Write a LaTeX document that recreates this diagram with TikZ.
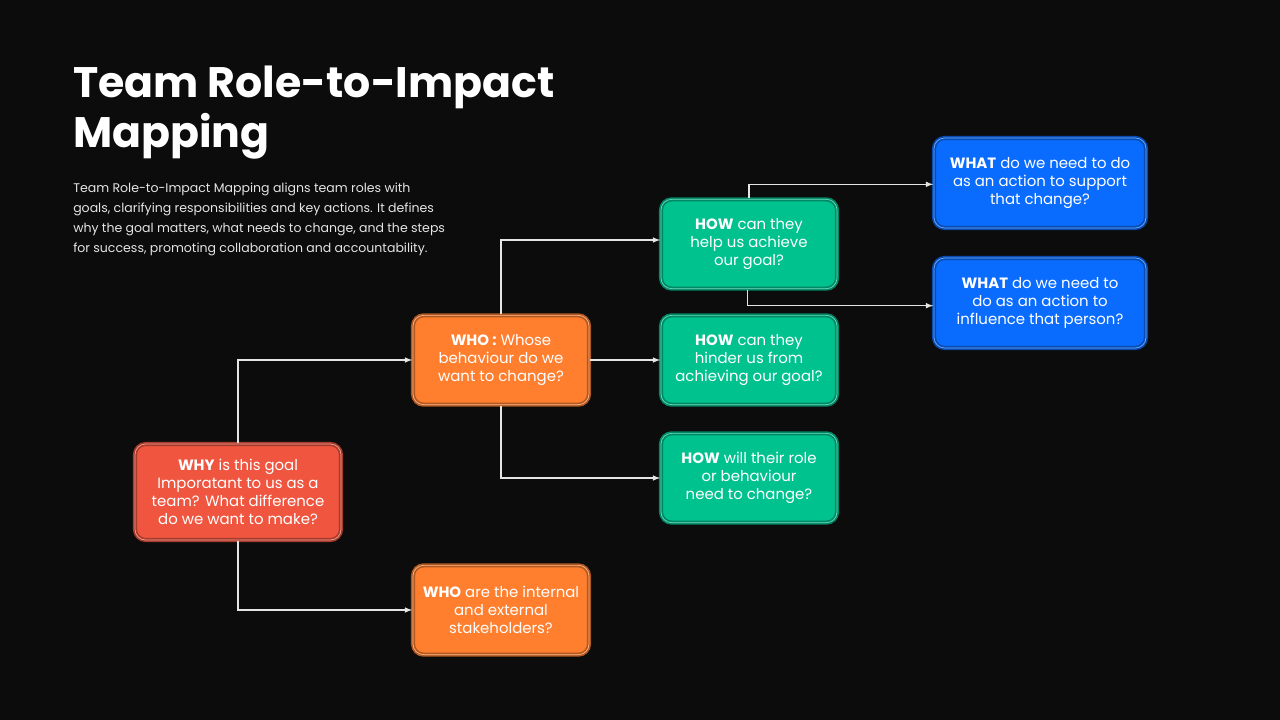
\documentclass[tikz,border=0pt]{standalone}
\usepackage{fontspec}
\setmainfont{Poppins}
\usetikzlibrary{positioning}
\definecolor{mybg}{RGB}{12,12,12}
\definecolor{myred}{RGB}{240,85,63}
\definecolor{myorange}{RGB}{255,127,47}
\definecolor{mygreen}{RGB}{0,194,143}
\definecolor{myblue}{RGB}{10,108,255}
\begin{document}
\begin{tikzpicture}[x=0.75pt,y=-0.75pt,
box/.style={
  fill=#1,
  draw=#1!70!black,
  double=#1!55!white,
  double distance=0.5pt,
  line width=1.3pt,
  rounded corners=8pt,
  font={\fontsize{11.2}{13.4}\selectfont\color{white}},
  align=center,
  inner sep=0pt},
link/.style={draw=white!90!black, line width=0.9pt, -latex},
]
\fill[mybg] (0,0) rectangle (1280,720);
\useasboundingbox (0,0) rectangle (1280,720);
% title and text
\node[anchor=north west, align=left, inner sep=0pt, font={\fontsize{32}{37.5}\selectfont\bfseries\color{white}}] (title) at (73,66) {Team Role-to-Impact\\Mapping};
\node[anchor=north west, align=left, inner sep=0pt, font={\fontsize{9.4}{15}\selectfont\color{white!90!black}}] (intro) at (73,183)
{Team Role-to-Impact Mapping aligns team roles with\\goals, clarifying responsibilities and key actions. It defines\\why the goal matters, what needs to change, and the steps\\for success, promoting collaboration and accountability.};
% boxes
\node[box=myred, minimum width=154.5pt, minimum height=72pt] (why) at (238,492) {\textbf{WHY} is this goal\\Imporatant to us as a\\team? What difference\\do we want to make?};
\node[box=myorange, minimum width=132pt, minimum height=67pt] (who) at (501,360) {\textbf{WHO :} Whose\\behaviour do we\\want to change?};
\node[box=myorange, minimum width=132pt, minimum height=67pt] (whoext) at (501,610) {\textbf{WHO} are the internal\\and external\\stakeholders?};
\node[box=mygreen, minimum width=132pt, minimum height=67pt] (helpus) at (749,244) {\textbf{HOW} can they\\help us achieve\\our goal?};
\node[box=mygreen, minimum width=132pt, minimum height=67pt] (hinder) at (749,360) {\textbf{HOW} can they\\hinder us from\\achieving our goal?};
\node[box=mygreen, minimum width=132pt, minimum height=67pt] (rolechg) at (749,478) {\textbf{HOW} will their role\\or behaviour\\need to change?};
\node[box=myblue, minimum width=159pt, minimum height=67.5pt] (support) at (1040,183) {\textbf{WHAT} do we need to do\\as an action to support\\that change?};
\node[box=myblue, minimum width=159pt, minimum height=67.5pt] (influence) at (1040,303) {\textbf{WHAT} do we need to\\do as an action to\\influence that person?};
% connectors
\draw[link] (why.north) |- (who.west);
\draw[link] (why.south) |- (whoext.west);
\draw[link] (who.north) |- ([yshift=3]helpus.west);
\draw[link] (who.east) -- (hinder.west);
\draw[link] (who.south) |- (rolechg.west);
\draw[link] (helpus.north) |- ([yshift=-1]support.west);
\draw[link] ([xshift=-1]helpus.south) |- ([yshift=-2]influence.west);
\end{tikzpicture}
\end{document}
